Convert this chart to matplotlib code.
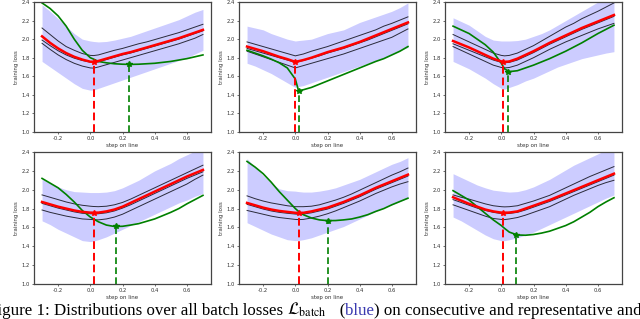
import matplotlib
matplotlib.use("Agg")
import matplotlib.pyplot as plt

# common step positions on the line
steps = [-0.3, -0.25, -0.2, -0.15, -0.1, -0.05, 0.0, 0.02, 0.05, 0.1, 0.15, 0.2,
         0.25, 0.3, 0.35, 0.4, 0.45, 0.5, 0.55, 0.6, 0.65, 0.7]

# panel 1
red1 = [2.03,1.96,1.90,1.85,1.81,1.78,1.757,1.755,1.765,1.79,1.815,1.84,1.86,1.885,1.91,1.935,1.96,1.985,2.01,2.04,2.07,2.10]
up1 = [2.12,2.05,1.98,1.92,1.88,1.845,1.825,1.823,1.83,1.855,1.88,1.90,1.925,1.95,1.97,1.995,2.02,2.045,2.07,2.10,2.13,2.16]
mid1 = [1.99,1.93,1.875,1.83,1.795,1.77,1.752,1.75,1.755,1.78,1.805,1.83,1.85,1.875,1.90,1.925,1.95,1.975,2.00,2.03,2.06,2.09]
lo1 = [1.955,1.89,1.83,1.78,1.74,1.71,1.69,1.688,1.70,1.725,1.75,1.775,1.80,1.825,1.85,1.875,1.90,1.925,1.95,1.98,2.01,2.05]
bhi1 = [2.37,2.30,2.22,2.14,2.06,2.00,1.98,1.975,1.97,1.975,1.99,2.01,2.03,2.06,2.09,2.12,2.15,2.18,2.21,2.25,2.29,2.32]
blo1 = [1.76,1.70,1.64,1.58,1.52,1.47,1.45,1.452,1.47,1.50,1.53,1.56,1.59,1.62,1.65,1.68,1.71,1.74,1.77,1.80,1.84,1.88]
grn1 = [2.39,2.33,2.25,2.14,2.00,1.88,1.80,1.785,1.76,1.745,1.735,1.73,1.728,1.73,1.735,1.74,1.75,1.76,1.775,1.79,1.81,1.83]
redmin1 = (0.02, 1.755); grnmin1 = (0.24, 1.728)

# panel 2
red2 = [1.92,1.895,1.87,1.84,1.81,1.785,1.755,1.763,1.775,1.80,1.83,1.86,1.885,1.91,1.94,1.97,2.005,2.04,2.075,2.11,2.145,2.18]
up2 = [1.97,1.945,1.92,1.895,1.87,1.845,1.82,1.828,1.84,1.87,1.895,1.92,1.95,1.98,2.01,2.04,2.07,2.10,2.14,2.17,2.205,2.24]
mid2 = [1.90,1.875,1.85,1.825,1.80,1.775,1.75,1.757,1.77,1.795,1.82,1.85,1.875,1.90,1.93,1.96,1.99,2.025,2.06,2.095,2.13,2.165]
lo2 = [1.87,1.84,1.81,1.78,1.75,1.72,1.69,1.70,1.715,1.74,1.765,1.79,1.815,1.84,1.87,1.90,1.93,1.96,1.99,2.02,2.065,2.11]
bhi2 = [2.14,2.12,2.10,2.06,2.03,2.00,1.98,1.985,1.99,2.00,2.03,2.06,2.08,2.10,2.14,2.18,2.21,2.24,2.27,2.30,2.34,2.39]
blo2 = [1.74,1.71,1.67,1.63,1.58,1.53,1.48,1.49,1.50,1.53,1.56,1.59,1.62,1.65,1.68,1.71,1.74,1.77,1.80,1.84,1.88,1.91]
grn2 = [1.88,1.85,1.82,1.785,1.745,1.69,1.57,1.445,1.455,1.48,1.515,1.55,1.585,1.62,1.655,1.69,1.725,1.76,1.79,1.83,1.87,1.92]
redmin2 = (0.0, 1.755); grnmin2 = (0.02, 1.445)

# panel 3
red3 = [1.98,1.945,1.91,1.87,1.83,1.79,1.76,1.754,1.76,1.79,1.83,1.87,1.915,1.96,2.00,2.04,2.08,2.12,2.155,2.19,2.225,2.26]
up3 = [2.05,2.01,1.97,1.93,1.89,1.85,1.825,1.82,1.825,1.85,1.89,1.93,1.98,2.03,2.08,2.13,2.17,2.22,2.26,2.30,2.345,2.39]
mid3 = [1.95,1.915,1.88,1.845,1.81,1.775,1.75,1.745,1.75,1.775,1.815,1.855,1.90,1.945,1.985,2.025,2.065,2.105,2.14,2.175,2.21,2.245]
lo3 = [1.92,1.88,1.84,1.80,1.76,1.72,1.695,1.69,1.695,1.72,1.76,1.80,1.845,1.89,1.93,1.97,2.005,2.04,2.075,2.11,2.14,2.17]
bhi3 = [2.23,2.19,2.15,2.09,2.03,1.99,1.98,1.98,1.98,1.985,2.00,2.03,2.06,2.10,2.15,2.20,2.25,2.30,2.35,2.40,2.45,2.50]
blo3 = [1.76,1.72,1.68,1.63,1.58,1.52,1.47,1.46,1.48,1.51,1.55,1.58,1.62,1.66,1.70,1.73,1.76,1.79,1.81,1.83,1.85,1.865]
grn3 = [2.14,2.10,2.06,2.00,1.94,1.86,1.74,1.68,1.65,1.66,1.69,1.72,1.755,1.79,1.83,1.87,1.915,1.96,2.01,2.06,2.105,2.15]
redmin3 = (0.01, 1.754); grnmin3 = (0.04, 1.648)

# panel 4
red4 = [1.87,1.845,1.82,1.80,1.78,1.765,1.757,1.755,1.757,1.77,1.79,1.82,1.86,1.90,1.94,1.98,2.02,2.06,2.10,2.14,2.175,2.21]
up4 = [1.945,1.92,1.895,1.87,1.85,1.835,1.825,1.822,1.82,1.825,1.84,1.865,1.90,1.94,1.98,2.02,2.06,2.10,2.14,2.18,2.22,2.26]
mid4 = [1.855,1.83,1.805,1.785,1.765,1.75,1.745,1.743,1.745,1.755,1.775,1.805,1.84,1.88,1.92,1.96,2.00,2.04,2.08,2.12,2.155,2.19]
lo4 = [1.785,1.76,1.74,1.72,1.705,1.69,1.685,1.682,1.68,1.69,1.71,1.74,1.78,1.82,1.86,1.90,1.94,1.98,2.02,2.06,2.11,2.155]
bhi4 = [2.11,2.07,2.03,2.00,1.98,1.975,1.97,1.97,1.97,1.975,1.99,2.02,2.06,2.10,2.15,2.20,2.24,2.28,2.33,2.37,2.41,2.45]
blo4 = [1.67,1.63,1.58,1.54,1.50,1.46,1.45,1.455,1.47,1.50,1.54,1.58,1.62,1.66,1.70,1.74,1.78,1.82,1.86,1.89,1.93,1.96]
grn4 = [2.12,2.07,2.02,1.95,1.87,1.78,1.71,1.69,1.66,1.625,1.61,1.612,1.625,1.64,1.665,1.69,1.725,1.76,1.80,1.85,1.895,1.94]
redmin4 = (0.025, 1.755); grnmin4 = (0.16, 1.61)

# panel 5
red5 = [1.86,1.835,1.81,1.79,1.775,1.765,1.755,1.752,1.755,1.77,1.79,1.81,1.84,1.87,1.905,1.94,1.98,2.02,2.055,2.09,2.125,2.16]
up5 = [1.935,1.905,1.88,1.86,1.845,1.83,1.82,1.82,1.82,1.825,1.84,1.865,1.89,1.92,1.955,1.995,2.035,2.075,2.115,2.155,2.19,2.23]
mid5 = [1.845,1.82,1.795,1.775,1.76,1.75,1.742,1.74,1.742,1.755,1.775,1.795,1.825,1.855,1.89,1.925,1.965,2.005,2.04,2.075,2.11,2.145]
lo5 = [1.78,1.76,1.74,1.72,1.705,1.695,1.685,1.683,1.685,1.70,1.72,1.745,1.775,1.81,1.845,1.88,1.92,1.96,1.995,2.03,2.06,2.085]
bhi5 = [2.33,2.24,2.15,2.07,2.01,1.99,1.985,1.98,1.975,1.975,1.985,2.00,2.02,2.05,2.08,2.11,2.15,2.19,2.23,2.27,2.30,2.34]
blo5 = [1.65,1.61,1.57,1.53,1.50,1.47,1.46,1.462,1.47,1.49,1.52,1.55,1.58,1.61,1.65,1.69,1.73,1.77,1.81,1.84,1.875,1.91]
grn5 = [2.30,2.24,2.17,2.08,1.98,1.89,1.80,1.77,1.735,1.70,1.68,1.672,1.673,1.68,1.69,1.71,1.735,1.77,1.80,1.84,1.875,1.91]
redmin5 = (0.02, 1.752); grnmin5 = (0.2, 1.67)

# panel 6
red6 = [1.92,1.885,1.85,1.82,1.79,1.77,1.757,1.755,1.758,1.77,1.80,1.83,1.86,1.89,1.925,1.96,1.995,2.03,2.065,2.10,2.135,2.17]
up6 = [1.945,1.92,1.90,1.875,1.85,1.83,1.82,1.818,1.82,1.83,1.855,1.88,1.91,1.94,1.98,2.02,2.06,2.10,2.14,2.175,2.21,2.245]
mid6 = [1.895,1.865,1.835,1.805,1.78,1.76,1.747,1.745,1.748,1.76,1.785,1.815,1.845,1.875,1.91,1.945,1.98,2.015,2.05,2.085,2.12,2.155]
lo6 = [1.84,1.81,1.78,1.75,1.72,1.695,1.685,1.683,1.69,1.705,1.73,1.76,1.79,1.82,1.86,1.90,1.94,1.975,2.01,2.045,2.075,2.10]
bhi6 = [2.17,2.13,2.09,2.05,2.02,1.995,1.985,1.98,1.975,1.98,2.00,2.03,2.07,2.11,2.16,2.21,2.26,2.30,2.34,2.38,2.42,2.46]
blo6 = [1.71,1.67,1.62,1.57,1.52,1.48,1.46,1.46,1.47,1.49,1.52,1.55,1.59,1.63,1.67,1.71,1.75,1.79,1.83,1.87,1.91,1.944]
grn6 = [1.99,1.94,1.89,1.82,1.75,1.68,1.62,1.59,1.55,1.52,1.517,1.525,1.54,1.56,1.59,1.62,1.66,1.71,1.76,1.82,1.87,1.915]
redmin6 = (0.012, 1.755); grnmin6 = (0.09, 1.517)

xticks = [-0.2, 0.0, 0.2, 0.4, 0.6]
yticks = [1.0, 1.2, 1.4, 1.6, 1.8, 2.0, 2.2, 2.4]
xlabel = "step on line"
ylabel = "training loss"
caption_head = "Figure 1:"
caption_a = "Distributions over all batch losses "
caption_math = r"$\mathcal{L}_{\mathrm{batch}}$"
caption_b = "   ("
caption_blue = "blue"
caption_c = ") on consecutive and representative and"

panels = [
    (red1, up1, mid1, lo1, bhi1, blo1, grn1, redmin1, grnmin1),
    (red2, up2, mid2, lo2, bhi2, blo2, grn2, redmin2, grnmin2),
    (red3, up3, mid3, lo3, bhi3, blo3, grn3, redmin3, grnmin3),
    (red4, up4, mid4, lo4, bhi4, blo4, grn4, redmin4, grnmin4),
    (red5, up5, mid5, lo5, bhi5, blo5, grn5, redmin5, grnmin5),
    (red6, up6, mid6, lo6, bhi6, blo6, grn6, redmin6, grnmin6),
]

plt.rcParams["mathtext.fontset"] = "stix"

W, H = 640, 319
fig = plt.figure(figsize=(W / 100, H / 100), dpi=100)
lefts = [34, 239, 445]
rows = [(2, 132), (152, 284)]
axw = 177

for i, p in enumerate(panels):
    red, up, mid, lo, bhi, blo, grn, rmin, gmin = p
    r, c = divmod(i, 3)
    top, bot = rows[r]
    ax = fig.add_axes([lefts[c] / W, (H - bot) / H, axw / W, (bot - top) / H])
    ax.fill_between(steps, blo, bhi, color="blue", alpha=0.2, linewidth=0)
    for s in (up, mid, lo):
        ax.plot(steps, s, color="#2a2a3a", lw=0.7)
    ax.plot(steps, grn, color="green", lw=1.2)
    ax.plot(steps, red, color="red", lw=1.8)
    ax.plot([rmin[0], rmin[0]], [1.0, rmin[1]], color="red", lw=1.4, ls=(0, (4, 2)))
    ax.plot([gmin[0], gmin[0]], [1.0, gmin[1]], color="green", lw=1.2, ls=(0, (4, 2)))
    ax.plot([rmin[0]], [rmin[1]], marker="*", color="red", ms=4)
    ax.plot([gmin[0]], [gmin[1]], marker="*", color="green", ms=4)
    ax.set_ylim(1.0, 2.4)
    ax.set_xlim(-0.35, 0.75)
    ax.set_xticks(xticks)
    ax.set_yticks(yticks)
    ax.set_xticklabels([f"{t:.1f}" for t in xticks])
    ax.set_yticklabels([f"{t:.1f}" for t in yticks])
    ax.tick_params(labelsize=3.8, length=1.5, width=0.5, pad=1.5, colors="#333333")
    ax.set_xlabel(xlabel, fontsize=4, labelpad=1.5, color="#333333")
    ax.set_ylabel(ylabel, fontsize=4, labelpad=2, color="#333333")
    for sp in ax.spines.values():
        sp.set_color("#444444")
        sp.set_linewidth(0.9)

cap = fig.add_axes([0, 0, 1, 1])
cap.set_axis_off()
cap.set_xlim(0, W)
cap.set_ylim(H, 0)
fs = 12.2
t0 = cap.text(50, 315, caption_head, fontsize=fs, family="Liberation Serif", ha="right", va="baseline")
t1 = cap.text(54, 315, caption_a, fontsize=fs, family="Liberation Serif", ha="left", va="baseline")
t2 = cap.annotate(caption_math, xy=(1, 0), xycoords=t1, fontsize=fs, family="Liberation Serif", va="bottom")
t3 = cap.annotate(caption_b, xy=(1, 0), xycoords=t2, fontsize=fs, family="Liberation Serif", va="bottom")
t4 = cap.annotate(caption_blue, xy=(1, 0), xycoords=t3, fontsize=fs, family="Liberation Serif", va="bottom", color="#3a3ab0")
t5 = cap.annotate(caption_c, xy=(1, 0), xycoords=t4, fontsize=fs, family="Liberation Serif", va="bottom")

fig.savefig("out.png", dpi=100)
